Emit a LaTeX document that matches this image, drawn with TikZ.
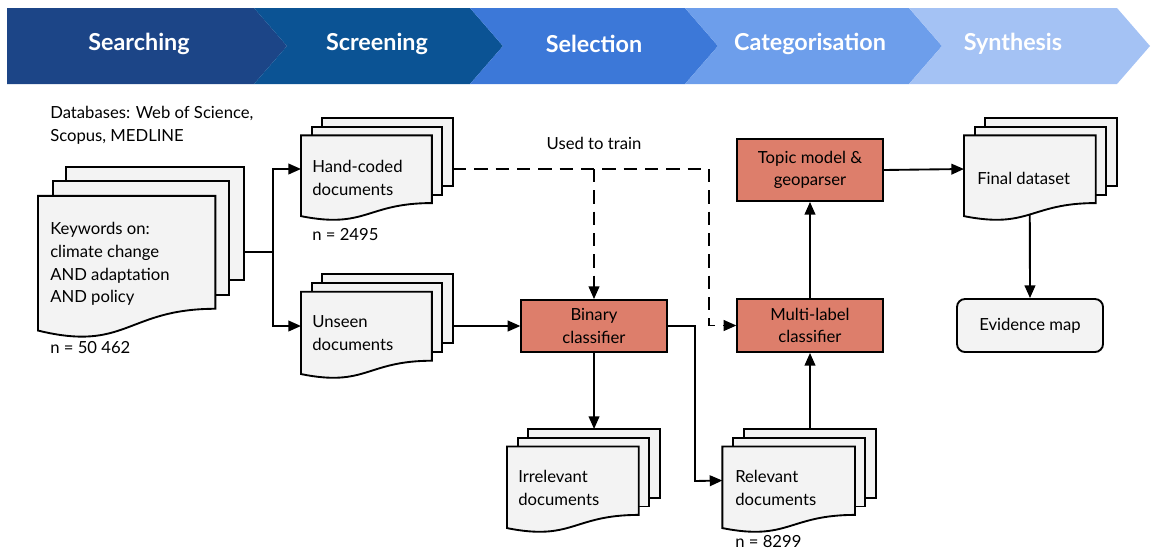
\documentclass[tikz,border=0pt]{standalone}
\usepackage{fontspec}
\setmainfont{Lato}
\usetikzlibrary{arrows.meta}
\definecolor{stepA}{HTML}{1C4587}
\definecolor{stepB}{HTML}{0B5394}
\definecolor{stepC}{HTML}{3C78D8}
\definecolor{stepD}{HTML}{6D9EEB}
\definecolor{stepE}{HTML}{A4C2F4}
\definecolor{procred}{HTML}{DD7E6B}
\definecolor{paper}{HTML}{F3F3F3}
% stack of documents: name, left, top, width, height (in px)
\newcommand\multidoc[5]{%
  \begin{scope}[shift={(#2,#3)},xscale=#4,yscale=#5]
    \draw[sheet] (0.1376,0) rectangle (1,0.666);
    \draw[sheet] (0.0709,0.084) rectangle (0.926,0.752);
    \draw[sheet] (0,0.170) -- (0.861,0.170) -- (0.861,0.834)
      .. controls (0.43,0.834) and (0.43,1.09) .. (0,0.962) -- cycle;
    \coordinate (#1-w) at (0,0.5);
    \coordinate (#1-e) at (1,0.5);
    \coordinate (#1-n) at (0.569,0);
    \coordinate (#1-s) at (0.43,0.946);
  \end{scope}}
\begin{document}
\begin{tikzpicture}[x=0.75pt,y=-0.75pt,
    sheet/.style={draw=black,line width=1.4pt,fill=paper},
    txt/.style={inner sep=0pt,align=left,font=\fontsize{12.5}{17}\selectfont},
    proc/.style={draw=black,line width=1.4pt,fill=procred,inner sep=0pt,
      align=center,minimum width=109pt,font=\fontsize{12.5}{17}\selectfont},
    arr/.style={line width=1.4pt,-{Triangle[length=9.5pt,width=8pt]}},
    dsh/.style={arr,dash pattern=on 10pt off 6pt},
    banner/.style={text=white,font=\fontsize{17.5}{20}\selectfont\bfseries}]
  \useasboundingbox (0,0) rectangle (1158,551);
  % stages
  \fill[stepA] (7,8) -- (254,8) -- (287,46) -- (254,84) -- (7,84) -- cycle;
  \fill[stepB] (254,8) -- (470,8) -- (503,46) -- (470,84) -- (254,84) -- (287,46) -- cycle;
  \fill[stepC] (470,8) -- (685,8) -- (718,46) -- (685,84) -- (470,84) -- (503,46) -- cycle;
  \fill[stepD] (685,8) -- (909,8) -- (942,46) -- (909,84) -- (685,84) -- (718,46) -- cycle;
  \fill[stepE] (909,8) -- (1117,8) -- (1150,46) -- (1117,84) -- (909,84) -- (942,46) -- cycle;
  \node[banner] (searching) at (139,44) {Searching};
  \node[banner] (screening) at (377,44) {Screening};
  \node[banner] (selection) at (594,44) {Selection};
  \node[banner] (categorisation) at (810,44) {Categorisation};
  \node[banner] (synthesis) at (1013,44) {Synthesis};
  % document stacks
  \multidoc{kw}{38}{167}{206}{170}
  \multidoc{hand}{301}{118}{152}{102}
  \multidoc{unseen}{301}{274}{152}{104}
  \multidoc{irr}{507}{429}{153}{103}
  \multidoc{rel}{722.4}{429}{154}{103}
  \multidoc{final}{964}{118}{153}{102}
  \node[txt,anchor=west] (db) at (50,125) {Databases: Web of Science,\\Scopus, MEDLINE};
  \node[txt,anchor=west] (kwtxt) at (50,264) {Keywords on:\\climate change\\AND adaptation\\AND policy};
  \node[txt,anchor=west] (kwn) at (50,348) {n = 50 462};
  \node[txt,anchor=west] (handtxt) at (312,178) {Hand-coded\\documents};
  \node[txt,anchor=west] (handn) at (312,235) {n = 2495};
  \node[txt,anchor=west] (unseentxt) at (312,333) {Unseen\\documents};
  \node[txt,anchor=west] (irrtxt) at (518,488) {Irrelevant\\documents};
  \node[txt,anchor=west] (reltxt) at (735,488) {Relevant\\documents};
  \node[txt,anchor=west] (reln) at (735,542) {n = 8299};
  \node[txt,anchor=west] (finaltxt) at (977,178) {Final dataset};
  % processes
  \node[proc,minimum height=39pt] (binary) at (594,326) {Binary\\classifier};
  \node[proc,minimum height=46.5pt] (topic) at (810,170) {Topic model \&\\geoparser};
  \node[proc,minimum height=39.75pt] (multi) at (810,325.5) {Multi-label\\classifier};
  \node[proc,fill=paper,rounded corners=6pt,minimum height=39.75pt,minimum width=109.5pt]
    (evid) at (1030,325.5) {Evidence map};
  \node[txt] (train) at (594,143) {Used to train};
  % connectors
  \coordinate (split) at (273,252);
  \coordinate (trainbend) at (709,169);
  \coordinate (relbend) at (695,481);
  \draw[line width=1.4pt] (kw-e) -- (split);
  \draw[arr] (split) |- (hand-w);
  \draw[arr] (split) |- (unseen-w);
  \draw[dsh] (hand-e) -- (trainbend) |- (multi.west);
  \draw[dsh] (hand-e -| binary.north) -- (binary.north);
  \draw[arr] (unseen-e) -- (binary.west);
  \draw[arr] (binary.south) -- (irr-n);
  \draw[arr] (binary.east) -| (relbend) -- (rel-w);
  \draw[arr] (rel-n) -- (multi.south);
  \draw[arr] (multi.north) -- (topic.south);
  \draw[arr] (topic.east) -- (final-w);
  \draw[arr] (final-s) -- (evid.north);
\end{tikzpicture}
\end{document}
